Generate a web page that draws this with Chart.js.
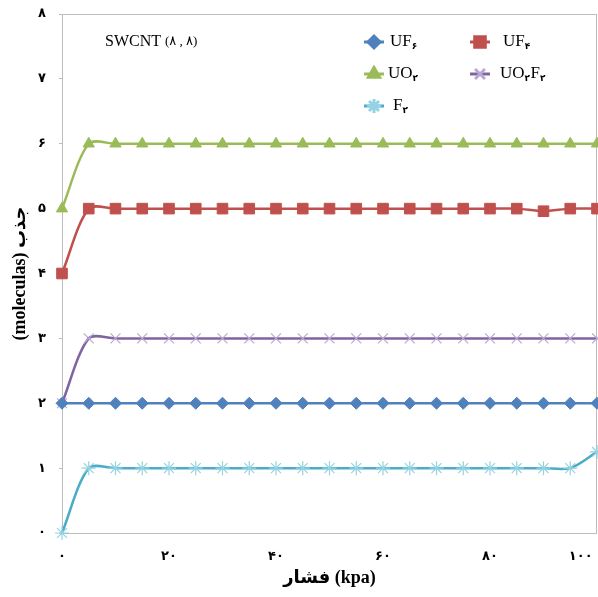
<!DOCTYPE html>
<html>
<head>
<meta charset="utf-8">
<script src="https://cdn.jsdelivr.net/npm/chart.js@4/dist/chart.umd.min.js"></script>
<style>
  html, body { margin: 0; padding: 0; background: #fff; }
  #wrap { width: 598px; height: 597px; }
</style>
</head>
<body>
<div id="wrap"><canvas id="chart" width="598" height="597"></canvas></div>
<script>
// pressure (kPa) and adsorbed molecules
const pressure = [0, 5, 10, 15, 20, 25, 30, 35, 40, 45, 50, 55, 60, 65, 70, 75, 80, 85, 90, 95, 100];
const uf6   = [2, 2, 2, 2, 2, 2, 2, 2, 2, 2, 2, 2, 2, 2, 2, 2, 2, 2, 2, 2, 2];
const uf4   = [4, 5, 5, 5, 5, 5, 5, 5, 5, 5, 5, 5, 5, 5, 5, 5, 5, 5, 4.96, 5, 5];
const uo2   = [5, 6, 6, 6, 6, 6, 6, 6, 6, 6, 6, 6, 6, 6, 6, 6, 6, 6, 6, 6, 6];
const uo2f2 = [2, 3, 3, 3, 3, 3, 3, 3, 3, 3, 3, 3, 3, 3, 3, 3, 3, 3, 3, 3, 3];
const f2    = [0, 1, 1, 1, 1, 1, 1, 1, 1, 1, 1, 1, 1, 1, 1, 1, 1, 1, 1, 1, 1.25];

const seriesNames = ["UF۶", "UF۴", "UO۲", "UO۲F۲", "F۲"];
const xTicks = [0, 20, 40, 60, 80, 100];
const yTicks = [0, 1, 2, 3, 4, 5, 6, 7, 8];

const faDigits = "۰۱۲۳۴۵۶۷۸۹";
const toFa = v => String(v).replace(/\d/g, d => faDigits[d]);

const SERIF = "'Liberation Serif', 'Times New Roman', 'DejaVu Sans', serif";

const styles = [
  { line: "#4f81bd", fill: "#4f81bd", point: "rectRot",  r: 6 },
  { line: "#c0504d", fill: "#c0504d", point: "rect",     r: 7.5 },
  { line: "#9bbb59", fill: "#9bbb59", point: "triangle", r: 6.5 },
  { line: "#8064a2", fill: "#b9a9d2", point: "crossRot", r: 7 },
  { line: "#4bacc6", fill: "#93d3e3", point: "star",     r: 7 }
];

const values = [uf6, uf4, uo2, uo2f2, f2];

const datasets = values.map((vals, i) => ({
  label: seriesNames[i],
  data: pressure.map((p, j) => ({ x: p, y: vals[j] })),
  borderColor: styles[i].line,
  backgroundColor: styles[i].fill,
  borderWidth: 2.5,
  tension: 0.3,
  pointStyle: styles[i].point,
  pointRadius: styles[i].r,
  pointBackgroundColor: styles[i].fill,
  pointBorderColor: styles[i].fill,
  pointBorderWidth: (styles[i].point === "crossRot" || styles[i].point === "star") ? 1.2 : 1,
  clip: false
}));

// legend placement inside the plot (centre of icon, row y)
const legendSpots = [
  { x: 374, y: 42, tx: 390 },
  { x: 480, y: 42, tx: 503 },
  { x: 374, y: 74, tx: 388 },
  { x: 480, y: 74, tx: 500 },
  { x: 374, y: 106, tx: 393 }
];

function drawSubText(ctx, text, x, y, size) {
  // Persian digits are written as subscripts
  let cx = x;
  for (const ch of text) {
    if (faDigits.includes(ch)) {
      ctx.font = "bold " + Math.round(size * 0.55) + "px 'DejaVu Sans', sans-serif";
      ctx.fillText(ch, cx, y + size * 0.3);
      cx += ctx.measureText(ch).width + 0.5;
    } else {
      ctx.font = size + "px " + SERIF;
      ctx.fillText(ch, cx, y);
      cx += ctx.measureText(ch).width;
    }
  }
}

const framePlugin = {
  id: "frame",
  beforeDatasetsDraw(chart) {
    const a = chart.chartArea, ctx = chart.ctx;
    ctx.save();
    ctx.strokeStyle = "#bdbdbd";
    ctx.lineWidth = 1;
    ctx.strokeRect(a.left + 0.5, a.top + 0.5, a.right - a.left - 1, a.bottom - a.top);
    ctx.restore();
  },
  afterDraw(chart) {
    const ctx = chart.ctx;
    ctx.save();
    ctx.fillStyle = "#000";
    ctx.textBaseline = "middle";
    ctx.textAlign = "left";
    ctx.font = "16px " + SERIF;
    ctx.fillText("SWCNT", 105, 42);
    const w = ctx.measureText("SWCNT ").width;
    ctx.font = "13px " + SERIF;
    ctx.fillText("(۸ , ۸)", 105 + w, 42);

    seriesNames.forEach((name, i) => {
      const s = legendSpots[i], st = styles[i];
      ctx.strokeStyle = st.line;
      ctx.lineWidth = 3;
      ctx.beginPath();
      ctx.moveTo(s.x - 10, s.y);
      ctx.lineTo(s.x + 10, s.y);
      ctx.stroke();
      ctx.fillStyle = st.fill;
      ctx.strokeStyle = st.fill;
      Chart.helpers.drawPoint(ctx, {
        pointStyle: st.point, radius: st.r, rotation: 0,
        borderWidth: (st.point === "crossRot" || st.point === "star") ? 1.2 : 1
      }, s.x, s.y);
      ctx.fillStyle = "#000";
      drawSubText(ctx, name, s.tx, s.y, 17);
    });
    ctx.restore();
  }
};

new Chart(document.getElementById("chart"), {
  type: "line",
  data: { datasets },
  plugins: [framePlugin],
  options: {
    responsive: false,
    animation: false,
    layout: { padding: { top: 14, right: 1, left: 0, bottom: 0 }, autoPadding: false },
    plugins: { legend: { display: false }, tooltip: { enabled: false } },
    scales: {
      x: {
        type: "linear",
        min: 0,
        max: 100,
        afterBuildTicks: s => { s.ticks = xTicks.map(v => ({ value: v })); },
        afterFit: s => { s.height = 64; s.paddingLeft = 0; s.paddingRight = 0; },
        border: { display: false },
        grid: { display: false },
        ticks: {
          padding: 8,
          color: "#000",
          font: { family: "'DejaVu Sans', sans-serif", size: 13, weight: "bold" },
          callback: v => v === 100 ? toFa(v) + "\u2002\u2002\u2002\u2002\u2002" : toFa(v)
        },
        title: {
          display: true,
          text: "فشار (kpa)",
          color: "#000",
          font: { family: SERIF, size: 18, weight: "bold" },
          padding: { top: 0, bottom: 8 }
        }
      },
      y: {
        min: 0,
        max: 8,
        afterBuildTicks: s => { s.ticks = yTicks.map(v => ({ value: v })); },
        afterFit: s => { s.width = 62; s.paddingTop = 0; s.paddingBottom = 0; },
        border: { display: false },
        grid: { drawOnChartArea: false, color: "#bdbdbd", tickLength: 3 },
        ticks: {
          padding: 13,
          color: "#000",
          font: { family: "'DejaVu Sans', sans-serif", size: 13, weight: "bold" },
          callback: v => toFa(v)
        },
        title: {
          display: true,
          text: "(moleculas) جذب",
          color: "#000",
          font: { family: SERIF, size: 18, weight: "bold" },
          padding: { top: 10, bottom: 0 }
        }
      }
    }
  }
});
</script>
</body>
</html>
